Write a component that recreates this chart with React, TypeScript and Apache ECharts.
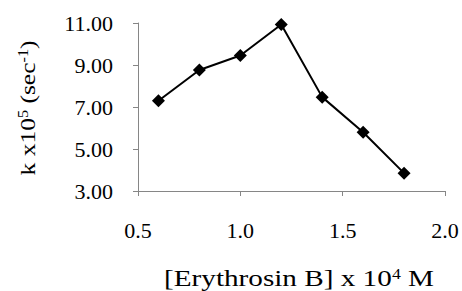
import React, { useEffect, useRef } from "react";
import * as echarts from "echarts";

const xValues = [0.6, 0.8, 1.0, 1.2, 1.4, 1.6, 1.8];
const kValues = [7.3, 8.76, 9.45, 10.93, 7.47, 5.8, 3.85];
const xTitle = "[Erythrosin B] x 10";
const yTitle = "k x10";

const FONT = "'Liberation Serif', 'Times New Roman', serif";

export default function App() {
  const ref = useRef<HTMLDivElement>(null);
  useEffect(() => {
    const chart = echarts.init(ref.current!, undefined, { renderer: "svg" });
    chart.setOption({
      animation: false,
      backgroundColor: "#ffffff",
      grid: { left: 138, right: 17, top: 23, bottom: 100 },
      xAxis: {
        type: "value",
        min: 0.5,
        max: 2.0,
        interval: 0.5,
        axisLine: { show: true, lineStyle: { color: "#868686", width: 1 } },
        axisTick: { show: true, inside: false, length: 5, lineStyle: { color: "#868686" } },
        splitLine: { show: false },
        axisLabel: {
          color: "#000",
          fontFamily: FONT,
          fontSize: 22,
          margin: 28,
          formatter: (v: number) => v.toFixed(1),
        },
      },
      yAxis: {
        type: "value",
        min: 3,
        max: 11,
        interval: 2,
        axisLine: { show: true, lineStyle: { color: "#868686", width: 1 } },
        axisTick: { show: true, inside: false, length: 5, lineStyle: { color: "#868686" } },
        splitLine: { show: false },
        axisLabel: {
          color: "#000",
          fontFamily: FONT,
          fontSize: 22,
          margin: 25,
          formatter: (v: number) => v.toFixed(2),
        },
      },
      series: [
        {
          type: "line",
          data: xValues.map((x, i) => [x, kValues[i]]),
          symbol: "diamond",
          symbolSize: 13,
          lineStyle: { color: "#000", width: 2 },
          itemStyle: { color: "#000" },
        },
      ],
      graphic: [
        {
          type: "text",
          x: 299,
          y: 279,
          scaleX: 1.27,
          style: {
            text: "{n|" + xTitle + "}{s|4}{n| M}",
            align: "center",
            verticalAlign: "middle",
            rich: {
              n: { fontFamily: FONT, fontSize: 23, fill: "#000" },
              s: { fontFamily: FONT, fontSize: 14, fill: "#000", verticalAlign: "top", padding: [0, 0, 10, 0] },
            },
          },
        },
        {
          type: "text",
          x: 28,
          y: 108,
          rotation: Math.PI / 2,
          scaleX: 1.16,
          style: {
            text: "{n|" + yTitle + "}{s|5}{n| (sec}{s|-1}{n|)}",
            align: "center",
            verticalAlign: "middle",
            rich: {
              n: { fontFamily: FONT, fontSize: 22, fill: "#000" },
              s: { fontFamily: FONT, fontSize: 14, fill: "#000", verticalAlign: "top", padding: [0, 0, 10, 0] },
            },
          },
        },
      ],
    });
    return () => chart.dispose();
  }, []);
  return (
    <div
      ref={ref}
      style={{ position: "fixed", left: 0, top: 0, width: 462, height: 291 }}
    />
  );
}
